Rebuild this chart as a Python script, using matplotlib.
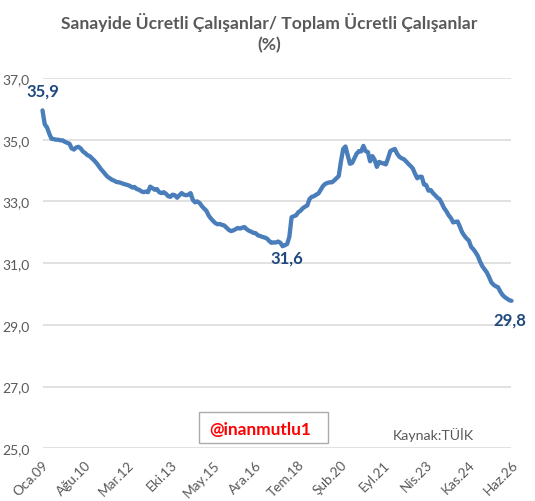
import matplotlib
matplotlib.use('Agg')
import matplotlib.pyplot as plt
from matplotlib.patches import Rectangle

plt.rcParams['font.family'] = ['Lato', 'DejaVu Sans']

tick_labels = ['Oca.09', 'Ağu.10', 'Mar.12', 'Eki.13', 'May.15', 'Ara.16',
               'Tem.18', 'Şub.20', 'Eyl.21', 'Nis.23', 'Kas.24', 'Haz.26']
y_ticks = [25, 27, 29, 31, 33, 35, 37]
values = [
    35.95, 35.5, 35.4, 35.2, 35.03, 35.02, 35.0, 35.0, 34.98, 34.98, 34.93, 34.9,
    34.87, 34.72, 34.68, 34.75, 34.77, 34.72, 34.62, 34.57, 34.5, 34.47, 34.4, 34.33,
    34.25, 34.15, 34.05, 33.97, 33.88, 33.8, 33.75, 33.7, 33.67, 33.63, 33.62, 33.6,
    33.57, 33.55, 33.53, 33.5, 33.45, 33.47, 33.4, 33.38, 33.33, 33.3, 33.32, 33.3,
    33.48, 33.43, 33.38, 33.4, 33.3, 33.27, 33.3, 33.25, 33.17, 33.15, 33.22, 33.2,
    33.12, 33.2, 33.27, 33.22, 33.2, 33.22, 33.27, 33.05, 32.97, 33.0, 32.95, 32.85,
    32.77, 32.7, 32.55, 32.45, 32.37, 32.3, 32.26, 32.27, 32.24, 32.22, 32.15, 32.08,
    32.04, 32.06, 32.1, 32.14, 32.12, 32.15, 32.17, 32.1, 32.05, 32.02, 31.98, 31.97,
    31.9, 31.88, 31.85, 31.83, 31.8, 31.72, 31.66, 31.67, 31.67, 31.7, 31.66, 31.55,
    31.58, 31.62, 31.85, 32.49, 32.52, 32.55, 32.65, 32.7, 32.78, 32.83, 32.87, 33.08,
    33.15, 33.17, 33.22, 33.26, 33.38, 33.5, 33.57, 33.6, 33.62, 33.62, 33.68, 33.75,
    33.82, 34.3, 34.7, 34.78, 34.5, 34.22, 34.25, 34.4, 34.55, 34.63, 34.62, 34.8,
    34.63, 34.6, 34.3, 34.47, 34.35, 34.12, 34.28, 34.25, 34.23, 34.2, 34.4, 34.63,
    34.67, 34.7, 34.55, 34.45, 34.4, 34.37, 34.3, 34.22, 34.15, 34.07, 33.9, 33.75,
    33.8, 33.8, 33.55, 33.53, 33.35, 33.37, 33.27, 33.2, 33.12, 33.07, 32.93, 32.78,
    32.68, 32.55, 32.46, 32.32, 32.34, 32.35, 32.18, 32.0, 31.89, 31.8, 31.73, 31.53,
    31.45, 31.35, 31.23, 31.05, 30.9, 30.8, 30.7, 30.55, 30.38, 30.3, 30.25, 30.22,
    30.08, 29.97, 29.9, 29.85, 29.8, 29.78,
]
x_values = list(range(len(values)))
tick_positions = [19 * k for k in range(len(tick_labels))]

W, H = 535, 502
fig = plt.figure(figsize=(W / 100, H / 100), dpi=100, facecolor='white')
L, R, T, B = 42.5, 511.5, 79.0, 449.3
ax = fig.add_axes([L / W, 1 - B / H, (R - L) / W, (B - T) / H])
ax.set_xlim(0, 209)
ax.set_ylim(25, 37)
ax.set_yticks(y_ticks)
ax.set_yticklabels([f'{v},0' for v in y_ticks], fontsize=10, color='#595959')
ax.set_xticks(tick_positions)
ax.set_xticklabels(tick_labels, fontsize=9.8, color='#595959', rotation=45,
                   ha='right', va='top', rotation_mode='anchor')
ax.tick_params(axis='both', length=0)
ax.tick_params(axis='x', pad=7)
ax.tick_params(axis='y', pad=9.5)
ax.grid(axis='y', color='#D9D9D9', lw=1.1)
ax.set_axisbelow(True)
for s in ax.spines.values():
    s.set_visible(False)
ax.plot(x_values, values, color='#4A7EBB', lw=3.1, solid_capstyle='round',
        solid_joinstyle='round', clip_on=False)

lab = dict(fontsize=12, fontweight='bold', color='#1F497D', ha='center', va='center')
ax.annotate('35,9', (0, values[0]), xytext=(0, 20), textcoords='offset pixels', **lab)
ax.annotate('31,6', (107, values[107]), xytext=(4, -11), textcoords='offset pixels', **lab)
ax.annotate('29,8', (209, values[209]), xytext=(-2, -19), textcoords='offset pixels', **lab)

fig.text(269.5 / W, 1 - 23 / H, 'Sanayide Ücretli Çalışanlar/ Toplam Ücretli Çalışanlar',
         fontsize=12.6, fontweight='bold', color='#595959', ha='center', va='center')
fig.text(269 / W, 1 - 45 / H, '(%)', fontsize=12.6, fontweight='bold', color='#595959',
         ha='center', va='center')

fig.add_artist(Rectangle((199 / W, 1 - 443.5 / H), 129 / W, 31 / H, transform=fig.transFigure,
                         facecolor='white', edgecolor='#ABABAB', lw=1, zorder=5))
fig.text(260 / W, 1 - 430 / H, '@inanmutlu1', fontsize=12.4, fontweight='bold', color='#FF0000',
         ha='center', va='center', zorder=6)
fig.text(433 / W, 1 - 435 / H, 'Kaynak:TÜİK', fontsize=10.2, color='#595959',
         ha='center', va='center', zorder=6)

fig.savefig('out.png', dpi=100)
